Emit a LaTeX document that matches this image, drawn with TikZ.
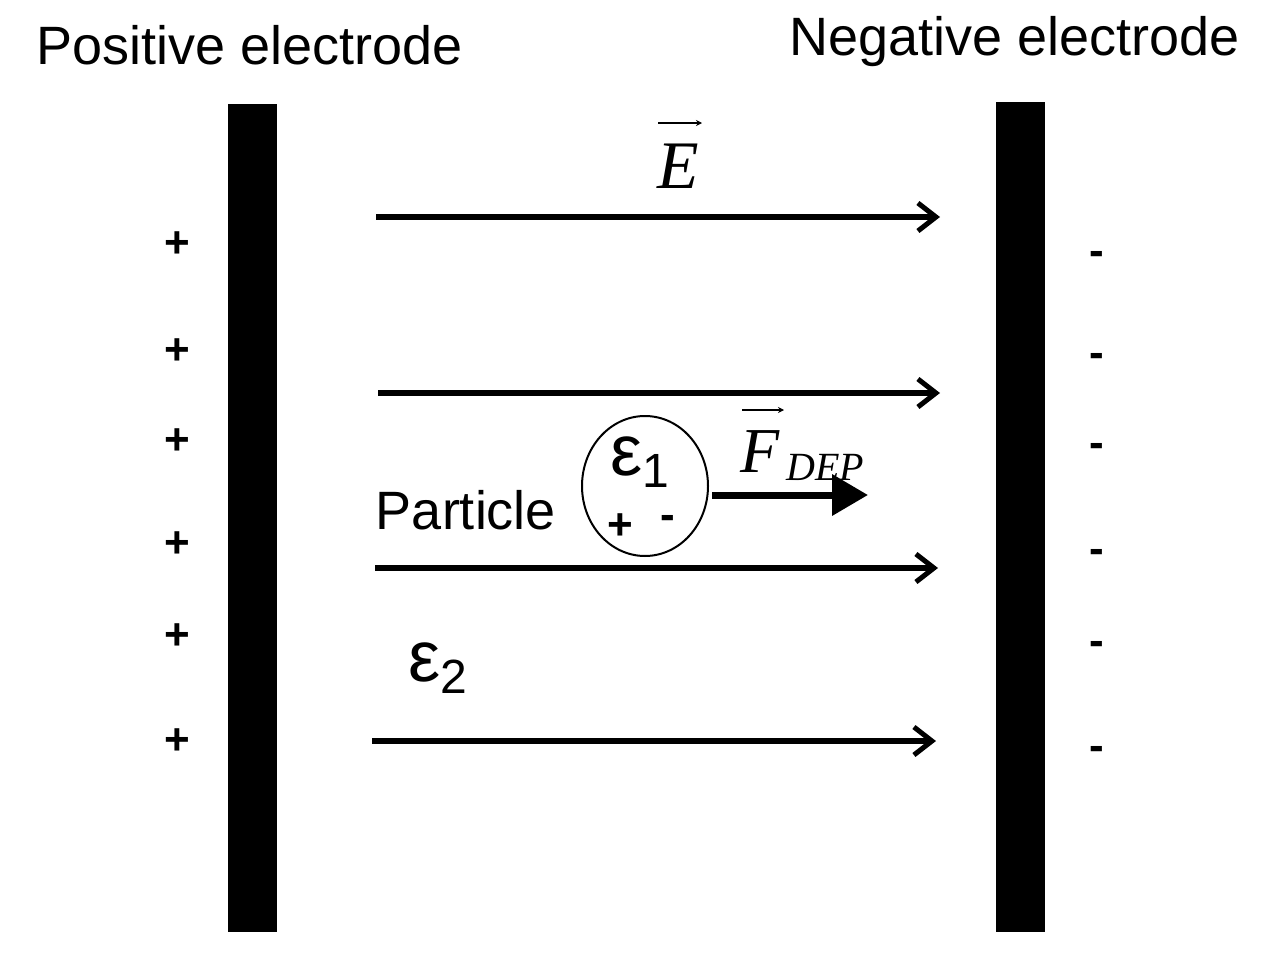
\documentclass[tikz,border=0pt]{standalone}
\usepackage{fontspec}
\setmainfont{Liberation Sans}
\newfontfamily\tms{Liberation Serif}
\usetikzlibrary{arrows.meta,shapes.geometric}
\begin{document}
\begin{tikzpicture}[x=0.5pt,y=-0.5pt,
  field/.style={line width=3pt,-{Straight Barb[length=9pt,width=14pt,line width=2.5pt]}},
  sign/.style={font=\bfseries\fontsize{22}{22}\selectfont},
  vec/.style={line width=0.6pt,-{Stealth[length=3pt,width=3pt]}},
  ttl/.style={font=\fontsize{27}{28}\selectfont}]
\useasboundingbox (0,0) rectangle (1281,953);
\fill (228,104) rectangle (277,932);
\fill (996,102) rectangle (1045,932);
\node[ttl] (pos) at (250,45) {Positive electrode};
\node[ttl] (neg) at (1015,42) {Negative electrode};
\coordinate (a1) at (376,217); \coordinate (b1) at (940,217);
\coordinate (a2) at (378,393); \coordinate (b2) at (940,393);
\coordinate (a3) at (375,568); \coordinate (b3) at (938,568);
\coordinate (a4) at (372,741); \coordinate (b4) at (936,741);
\foreach \i in {1,...,4} \draw[field] (a\i) -- (b\i);
\foreach \y in {245,352,442,545,637,742} \node[sign] at (177,\y) {+};
\foreach \y in {250,352,442,548,640,745} \node[sign] at (1097,\y+8) {-};
\node[inner sep=0pt] (E) at (678,166) {\tms\itshape\fontsize{34}{34}\selectfont E};
\coordinate (ev1) at (658,123); \coordinate (ev2) at (702,123);
\draw[vec] (ev1) -- (ev2);
\node[draw,line width=1pt,ellipse,minimum width=63pt,minimum height=70pt,inner sep=0pt] (p) at (645,486) {};
\node (e1) at (640,462) {{\fontsize{36}{36}\selectfont ε}\raisebox{-6pt}{\fontsize{24}{24}\selectfont 1}};
\node[font=\bfseries\fontsize{22}{22}\selectfont] (pp) at (620,527) {+};
\node[font=\bfseries\fontsize{22}{22}\selectfont] (pm) at (668,522) {-};
\node[ttl] (lab) at (466,510) {Particle};
\coordinate (f1) at (712,495); \coordinate (f2) at (868,495);
\draw[line width=3.5pt,-{Triangle[length=18pt,width=20pt]}] (f1) -- (f2);
\node[anchor=west,inner sep=0pt] (F) at (740,456) {\tms\itshape\fontsize{32}{32}\selectfont F\raisebox{-4pt}{\fontsize{20}{20}\selectfont\,DEP}};
\coordinate (fv1) at (742,410); \coordinate (fv2) at (784,410);
\draw[vec] (fv1) -- (fv2);
\node (e2) at (438,668) {{\fontsize{36}{36}\selectfont ε}\raisebox{-6pt}{\fontsize{24}{24}\selectfont 2}};
\end{tikzpicture}
\end{document}
